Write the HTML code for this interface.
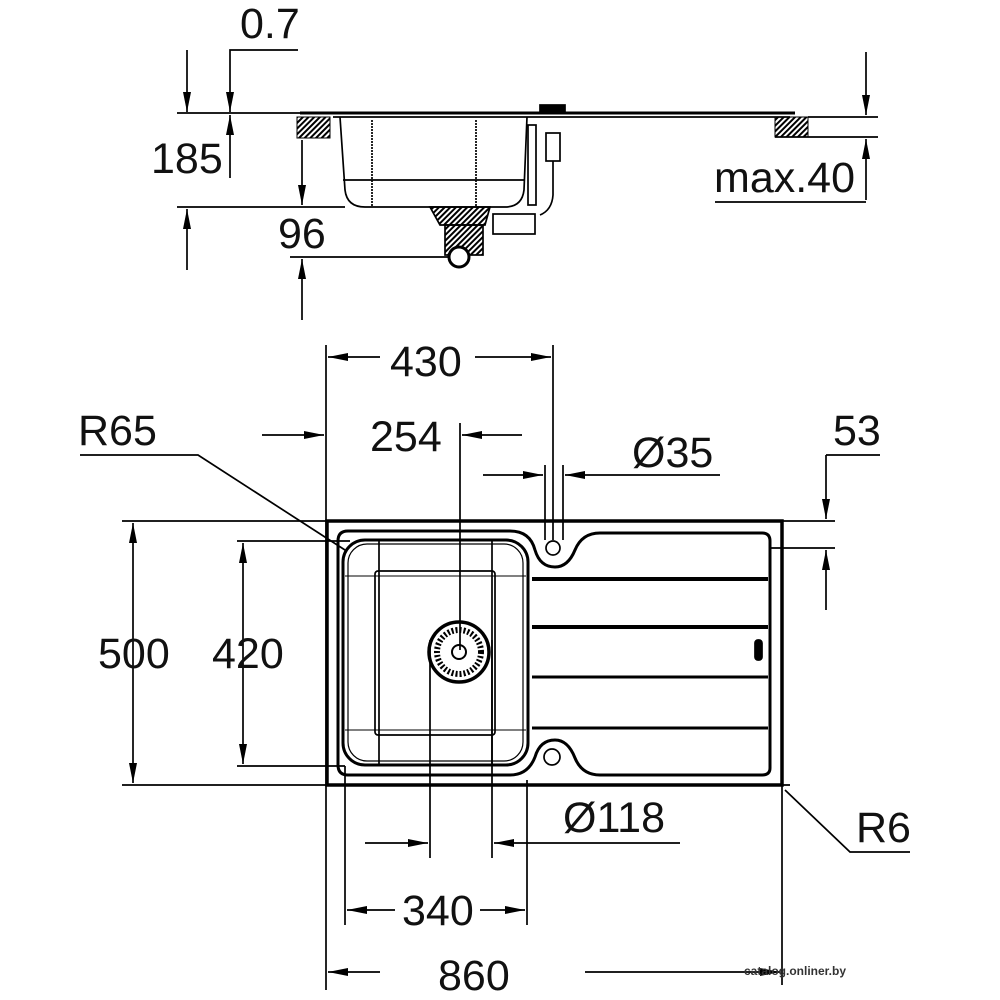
<!DOCTYPE html>
<html><head><meta charset="utf-8"><style>
html,body{margin:0;padding:0;background:#fff}
svg{display:block}
text{font-family:"Liberation Sans",sans-serif;font-size:43px;fill:#111}
</style></head><body>
<svg width="1000" height="1000" viewBox="0 0 1000 1000" xmlns="http://www.w3.org/2000/svg">
<defs>
<marker id="b" viewBox="0 0 10 10" refX="10" refY="5" markerWidth="20" markerHeight="8" markerUnits="userSpaceOnUse" orient="auto-start-reverse" preserveAspectRatio="none"><path d="M0,0 L10,5 L0,10 z" fill="#000"/></marker>
<pattern id="h" width="4" height="4" patternUnits="userSpaceOnUse" patternTransform="rotate(45)"><rect width="2" height="4" fill="#000"/></pattern>
</defs>
<g stroke="#000" fill="none" stroke-width="1.7">
<!-- TOP SECTION -->
<line x1="187" y1="50" x2="187" y2="112" marker-end="url(#b)"/>
<polyline points="298,50 230,50 230,112" marker-end="url(#b)"/>
<line x1="230" y1="178" x2="230" y2="115" marker-end="url(#b)"/>
<line x1="177" y1="113" x2="300" y2="113"/>
<line x1="300" y1="113" x2="795" y2="113" stroke-width="3"/>
<rect x="297" y="117" width="33" height="21" fill="url(#h)" stroke-width="1"/>
<rect x="775" y="117" width="33" height="20" fill="url(#h)" stroke-width="1"/>
<line x1="333" y1="117" x2="790" y2="117"/>
<line x1="808" y1="117" x2="878" y2="117"/>
<line x1="775" y1="137" x2="878" y2="137"/>
<line x1="866" y1="52" x2="866" y2="115" marker-end="url(#b)"/>
<line x1="866" y1="200" x2="866" y2="139" marker-end="url(#b)"/>
<line x1="715" y1="202" x2="866" y2="202"/>
<rect x="540" y="105" width="25" height="8" fill="#000"/>
<path d="M340,117 L345,190 Q347,207 365,207 L505,207 Q522,207 524,190 L527,117"/>
<line x1="343" y1="180" x2="525" y2="180"/>
<line x1="372" y1="120" x2="372" y2="207" stroke-dasharray="2,1"/>
<line x1="476" y1="120" x2="476" y2="207" stroke-dasharray="2,1"/>
<rect x="528" y="125" width="8" height="80"/>
<rect x="546" y="133" width="14" height="28"/>
<path d="M553,161 L553,195 Q552,210 540,215"/>
<path d="M430,207 L490,207 L485,225 L440,225 z" fill="url(#h)"/>
<rect x="493" y="214" width="42" height="20"/>
<rect x="445" y="225" width="38" height="30" fill="url(#h)"/>
<circle cx="459" cy="257" r="10" fill="#fff" stroke-width="3"/>
<line x1="177" y1="207" x2="345" y2="207"/>
<line x1="302" y1="140" x2="302" y2="205" marker-end="url(#b)"/>
<line x1="187" y1="270" x2="187" y2="209" marker-end="url(#b)"/>
<line x1="290" y1="257" x2="450" y2="257"/>
<line x1="302" y1="320" x2="302" y2="259" marker-end="url(#b)"/>

<!-- PLAN VIEW DIMENSIONS -->
<line x1="326" y1="345" x2="326" y2="990"/>
<line x1="553" y1="345" x2="553" y2="540"/>
<line x1="380" y1="357" x2="328" y2="357" marker-end="url(#b)"/>
<line x1="475" y1="357" x2="551" y2="357" marker-end="url(#b)"/>
<line x1="262" y1="435" x2="324" y2="435" marker-end="url(#b)"/>
<line x1="522" y1="435" x2="462" y2="435" marker-end="url(#b)"/>
<line x1="460" y1="423" x2="460" y2="650"/>
<line x1="483" y1="475" x2="543" y2="475" marker-end="url(#b)"/>
<line x1="625" y1="475" x2="565" y2="475" marker-end="url(#b)"/>
<line x1="625" y1="475" x2="720" y2="475"/>
<line x1="545" y1="465" x2="545" y2="540"/>
<line x1="563" y1="465" x2="563" y2="540"/>
<line x1="826" y1="455" x2="826" y2="519" marker-end="url(#b)"/>
<line x1="826" y1="610" x2="826" y2="550" marker-end="url(#b)"/>
<line x1="826" y1="455" x2="880" y2="455"/>
<line x1="122" y1="521" x2="835" y2="521"/>
<line x1="770" y1="548" x2="835" y2="548"/>
<line x1="122" y1="785" x2="790" y2="785"/>
<line x1="133" y1="523" x2="133" y2="783" marker-start="url(#b)" marker-end="url(#b)"/>
<line x1="237" y1="541" x2="350" y2="541"/>
<line x1="237" y1="766" x2="345" y2="766"/>
<line x1="243" y1="543" x2="243" y2="764" marker-start="url(#b)" marker-end="url(#b)"/>
<polyline points="80,455 198,455 345,550"/>
<polyline points="785,790 850,852 910,852"/>
<line x1="430" y1="640" x2="430" y2="858"/>
<line x1="492" y1="640" x2="492" y2="858"/>
<line x1="365" y1="843" x2="428" y2="843" marker-end="url(#b)"/>
<line x1="550" y1="843" x2="494" y2="843" marker-end="url(#b)"/>
<line x1="550" y1="843" x2="680" y2="843"/>
<line x1="345" y1="766" x2="345" y2="925"/>
<line x1="527" y1="780" x2="527" y2="925"/>
<line x1="395" y1="910" x2="347" y2="910" marker-end="url(#b)"/>
<line x1="480" y1="910" x2="525" y2="910" marker-end="url(#b)"/>
<line x1="782" y1="785" x2="782" y2="985"/>
<line x1="380" y1="972" x2="328" y2="972" marker-end="url(#b)"/>
<line x1="585" y1="972" x2="780" y2="972" marker-end="url(#b)"/>

<!-- SINK PLAN -->
<rect x="327" y="521" width="455" height="264" stroke-width="3.5"/>
<path d="M348,531 L510,531 Q530,531 535,550 Q540,567 555,567 Q568,567 575,550 Q582,533 600,533 L762,533 Q770,533 770,541 L770,768 Q770,775 762,775 L600,775 Q582,775 575,758 Q568,740 555,740 Q540,740 535,757 Q528,775 510,775 L348,775 Q338,775 338,765 L338,541 Q338,531 348,531 z" stroke-width="3"/>
<rect x="343" y="540" width="185" height="225" rx="22" stroke-width="3"/>
<rect x="348" y="544" width="175" height="217" rx="19" stroke-width="1.2"/>
<rect x="375" y="571" width="120" height="164" rx="3"/>
<line x1="379" y1="540" x2="379" y2="765"/>
<line x1="492" y1="540" x2="492" y2="765"/>
<line x1="345" y1="576" x2="526" y2="576" stroke-width="1"/>
<line x1="345" y1="730" x2="526" y2="730" stroke-width="1"/>
<circle cx="553" cy="548" r="7"/>
<circle cx="552" cy="757" r="8"/>
<line x1="532" y1="579" x2="768" y2="579" stroke-width="4"/>
<line x1="532" y1="627" x2="768" y2="627" stroke-width="4"/>
<line x1="532" y1="677" x2="768" y2="677" stroke-width="3"/>
<line x1="532" y1="728" x2="768" y2="728" stroke-width="3"/>
<rect x="755" y="640" width="7" height="20" rx="3" fill="#000"/>
<circle cx="459" cy="652" r="30" stroke-width="3.5"/>
<circle cx="459" cy="652" r="22" stroke-width="6" stroke-dasharray="2,2"/>
<circle cx="459" cy="652" r="7" stroke-width="2"/>
</g>
<text x="240" y="38">0.7</text>
<text x="151" y="173">185</text>
<text x="278" y="248">96</text>
<text x="714" y="192">max.40</text>
<text x="390" y="376">430</text>
<text x="78" y="445">R65</text>
<text x="370" y="451">254</text>
<text x="632" y="467">Ø35</text>
<text x="833" y="445">53</text>
<text x="98" y="668">500</text>
<text x="212" y="668">420</text>
<text x="563" y="832">Ø118</text>
<text x="856" y="842">R6</text>
<text x="402" y="925">340</text>
<text x="438" y="990">860</text>
<text x="744" y="975" style="font-size:12px;font-weight:bold;fill:#333">catalog.onliner.by</text>
</svg>
</body></html>
